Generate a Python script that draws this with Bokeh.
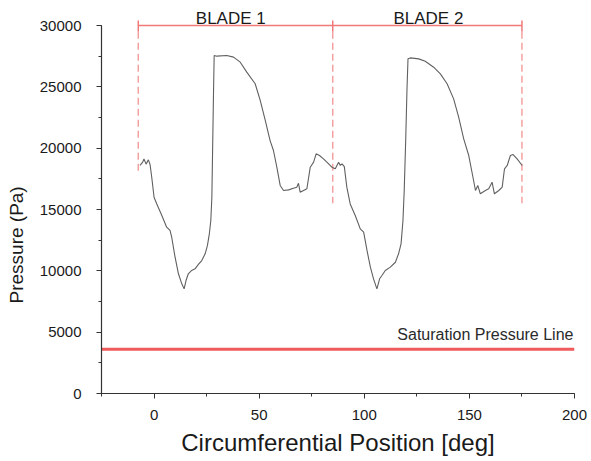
from bokeh.plotting import figure
from bokeh.models import Range1d, SingleIntervalTicker, Title
from bokeh.core.properties import value
from bokeh.embed import file_html
from bokeh.resources import INLINE

# ---- data ----
position_deg = [-6.7, -5.4, -4.8, -3.8, -2.7, -1.9, -1.1, 0, 1.3, 3.7,
                6.0, 7.6, 8.4, 10, 11.6, 13.2, 14.3, 15.2, 16.3, 17.9,
                19.5, 21.1, 22.7, 24.3, 25.4, 26.3, 27, 27.5, 27.8, 28.3,
                28.6, 29.8, 34.6, 37.8, 41, 44.1, 48.1, 50.5, 52.9, 55.2,
                56.8, 58.4, 60, 61.6, 64, 66.3, 67.9, 68.7, 69.5, 71.1,
                72.7, 74.3, 75.9, 77.1, 78.7, 80.6, 82.2, 84.6, 86.2, 87,
                87.8, 88.6, 89.4, 90.5, 91.7, 93.3, 95.7, 98.1, 99.7, 101.3,
                102.9, 104.4, 106, 107.3, 108.4, 110, 112.4, 114.8, 116.3, 117.5,
                118.4, 119, 119.7, 120.3, 120.8, 121.9, 125.9, 129, 133, 136.2,
                139.4, 142.5, 144.9, 147.3, 149.7, 151.7, 152.9, 154, 155.2, 157.6,
                159.2, 160.8, 161.9, 164, 165.6, 166.7, 168, 169.5, 170.8, 172.7, 175.1]
pressure_pa = [18590, 18860, 19130, 18700, 19050, 18670, 17630, 16000, 15450, 14510,
               13560, 13290, 12740, 11110, 9760, 8940, 8530, 9210, 9760, 10030,
               10160, 10520, 10840, 11390, 12070, 13020, 14100, 16000, 19270, 24700,
               27550, 27500, 27550, 27420, 27010, 26200, 25250, 23890, 22260, 20620,
               19810, 18450, 16960, 16550, 16600, 16740, 16820, 17140, 16410, 16550,
               16690, 18450, 18860, 19540, 19400, 19130, 18860, 18450, 18320, 18590,
               18860, 18590, 18720, 18500, 16820, 15450, 14510, 13420, 13150, 11660,
               10300, 9350, 8530, 9350, 9620, 10030, 10300, 10700, 11390, 12200,
               14100, 16550, 20620, 24700, 27280, 27360, 27280, 27090, 26600, 26060,
               25250, 24020, 22530, 20760, 19400, 17630, 16550, 16960, 16280, 16550,
               16690, 17230, 16280, 16550, 16820, 18320, 18590, 19400, 19480, 19130, 18590]

saturation_pa = 3600
saturation_x = [-25, 200]
saturation_label = "Saturation Pressure Line"

blade_bounds = [-7.5, 85, 175]
blade_line_y = 30000
blade_dash_bottom = [18000, 15500, 15500]
blade_labels = ["BLADE 1", "BLADE 2"]
blade_label_x = [36.5, 130.5]

x_label = "Circumferential Position [deg]"
y_label = "Pressure (Pa)"

# ---- figure ----
p = figure(width=599, height=460, output_backend="svg", toolbar_location=None,
           x_range=Range1d(-25, 200), y_range=Range1d(0, 31386),
           min_border_left=109, min_border_right=17, min_border_top=8,
           min_border_bottom=67)
p.styles = {"margin-left": "-8px"}
p.outline_line_color = None
p.xgrid.visible = False
p.ygrid.visible = False
p.background_fill_color = "white"

FONT = "Liberation Sans"
TEXT_COLOR = "#1a1a1a"

# saturation line
p.line(saturation_x, [saturation_pa, saturation_pa], line_color="#f05a5a", line_width=3)
p.text(x=[199.5], y=[saturation_pa], text=[saturation_label], text_align="right",
       text_baseline="bottom", y_offset=-6, text_font=value(FONT),
       text_font_size="16px", text_color="#2a2a2a")

# blade markers
p.line([blade_bounds[0], blade_bounds[-1]], [blade_line_y, blade_line_y],
       line_color="#f07a7a", line_width=1.5)
p.segment(x0=blade_bounds, y0=[blade_line_y + 400] * len(blade_bounds),
          x1=blade_bounds, y1=[blade_line_y - 500] * len(blade_bounds),
          line_color="#f07a7a", line_width=1.5)
p.segment(x0=blade_bounds, y0=[blade_line_y - 500] * len(blade_bounds),
          x1=blade_bounds, y1=blade_dash_bottom,
          line_color="#f5a0a0", line_width=1.5, line_dash="7 4")
p.text(x=blade_label_x, y=[blade_line_y] * 2, text=blade_labels, text_align="center",
       text_baseline="bottom", y_offset=2, text_font=value(FONT),
       text_font_size="17px", text_color=TEXT_COLOR)

# pressure curve
p.line(position_deg, pressure_pa, line_color="#606060", line_width=1.1)

# axes
for ax in (p.xaxis[0], p.yaxis[0]):
    ax.axis_line_color = "#333333"
    ax.axis_line_width = 1.2
    ax.major_tick_line_color = "#333333"
    ax.minor_tick_line_color = "#333333"
    ax.major_tick_in = 0
    ax.major_tick_out = 5
    ax.minor_tick_in = 0
    ax.minor_tick_out = 3
    ax.major_label_text_font = FONT
    ax.major_label_text_font_size = "15px"
    ax.major_label_text_color = TEXT_COLOR

p.xaxis[0].ticker = SingleIntervalTicker(interval=50, num_minor_ticks=2)
p.yaxis[0].ticker = SingleIntervalTicker(interval=5000, num_minor_ticks=2)
p.yaxis[0].bounds = (0, 30000)
p.xaxis[0].major_label_standoff = 11
p.yaxis[0].major_label_standoff = 15

p.xaxis[0].axis_label = x_label
p.xaxis[0].axis_label_text_font = FONT
p.xaxis[0].axis_label_text_font_size = "24px"
p.xaxis[0].axis_label_text_font_style = "normal"
p.xaxis[0].axis_label_text_color = TEXT_COLOR
p.xaxis[0].axis_label_standoff = 6

p.add_layout(Title(text=y_label, align="left", offset=90, standoff=20,
                   text_font=FONT, text_font_size="19px", text_font_style="normal",
                   text_color=TEXT_COLOR), "left")

open("out.html", "w").write(file_html(p, INLINE))
